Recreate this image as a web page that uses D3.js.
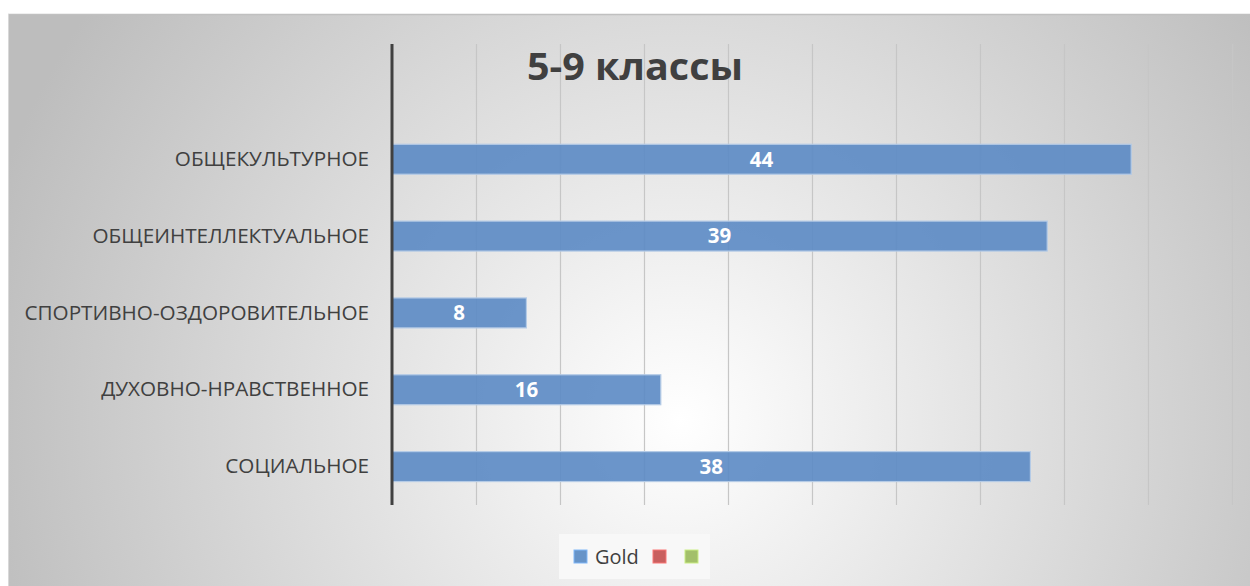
<!DOCTYPE html>
<html><head><meta charset="utf-8">
<script src="https://cdn.jsdelivr.net/npm/d3@7"></script>
<style>html,body{margin:0;padding:0;background:#fff;}svg{display:block;}</style>
</head><body>
<svg id="c" width="1250" height="586"></svg>
<script>
const categories = ["", "ОБЩЕКУЛЬТУРНОЕ", "ОБЩЕИНТЕЛЛЕКТУАЛЬНОЕ", "СПОРТИВНО-ОЗДОРОВИТЕЛЬНОЕ", "ДУХОВНО-НРАВСТВЕННОЕ", "СОЦИАЛЬНОЕ"];
const values = [null, 44, 39, 8, 16, 38];
const xTicks = [0, 5, 10, 15, 20, 25, 30, 35, 40, 45, 50];
const title = "5-9 классы";
const legendItems = ["Gold", "", ""];
const legendColors = ["#6794c8", "#c9605f", "#a3c06a"];

const svg = d3.select("#c");
const defs = svg.append("defs");
const rg = defs.append("radialGradient").attr("id","bg")
  .attr("gradientUnits","userSpaceOnUse").attr("cx",680).attr("cy",420).attr("r",720);
rg.append("stop").attr("offset","0%").attr("stop-color","#ffffff");
rg.append("stop").attr("offset","100%").attr("stop-color","#bdbdbd");

svg.append("rect").attr("x",8).attr("y",14).attr("width",1242).attr("height",572).attr("fill","url(#bg)");
svg.append("line").attr("x1",8).attr("x2",1250).attr("y1",14.5).attr("y2",14.5).attr("stroke","#c0c0c0").attr("stroke-width",1.5);
svg.append("line").attr("x1",8.5).attr("x2",8.5).attr("y1",14).attr("y2",586).attr("stroke","#d8d8d8").attr("stroke-width",1);

const x = d3.scaleLinear().domain([0,50]).range([392,1232]);
const y = d3.scaleBand().domain(categories.map((d,i)=>i)).range([44,505]).paddingInner(0.61).paddingOuter(0.305);

// grid
svg.append("g").attr("transform","translate(0,505)")
  .call(d3.axisBottom(x).tickValues(xTicks.slice(1)).tickSize(-461).tickFormat(""))
  .call(g=>g.select(".domain").remove())
  .call(g=>g.selectAll("line").attr("stroke","#c6c6c6").attr("stroke-width",1.2));

// title
svg.append("text").attr("x",635).attr("y",80).attr("text-anchor","middle")
  .attr("font-family","Open Sans").attr("font-weight","bold").attr("font-size",38).attr("fill","#404040")
  .attr("textLength",216).attr("lengthAdjust","spacingAndGlyphs").text(title);

// bars
const data = categories.map((c,i)=>({c,i,v:values[i]})).filter(d=>d.v!=null);
svg.append("g").selectAll("rect").data(data).join("rect")
  .attr("x",x(0)).attr("y",d=>y(d.i)).attr("height",y.bandwidth())
  .attr("width",d=>x(d.v)-x(0))
  .attr("fill","#5b8ac4").attr("fill-opacity",0.9).attr("stroke","#b5cbe6").attr("stroke-width",1.2);

svg.append("g").selectAll("text").data(data).join("text")
  .attr("x",d=>(x(0)+x(d.v))/2).attr("y",d=>y(d.i)+y.bandwidth()/2).attr("dy","0.36em")
  .attr("text-anchor","middle").attr("font-family","Open Sans").attr("font-weight","bold")
  .attr("font-size",20.5).attr("fill","#ffffff").text(d=>d.v);

// y axis
const ya = svg.append("g").attr("transform","translate(392,0)")
  .call(d3.axisLeft(y).tickSize(0).tickPadding(23).tickFormat(i=>categories[i]));
ya.select(".domain").remove();
ya.selectAll("text").attr("font-family","Open Sans").attr("font-size",20.7).attr("fill","#404040");
svg.append("line").attr("x1",392).attr("x2",392).attr("y1",44).attr("y2",505).attr("stroke","#404040").attr("stroke-width",3);

// legend
svg.append("rect").attr("x",559).attr("y",534).attr("width",151).attr("height",45).attr("fill","#f8f8f8");
const lx = [574, 653, 685];
const lg = svg.append("g").selectAll("g").data(legendItems).join("g")
  .attr("transform",(d,i)=>`translate(${lx[i]},550)`);
lg.append("rect").attr("width",13).attr("height",13).attr("fill",(d,i)=>legendColors[i])
  .attr("stroke",(d,i)=>d3.color(legendColors[i]).brighter(0.6)).attr("stroke-width",1);
lg.append("text").attr("x",21).attr("y",7).attr("dy","0.36em").attr("font-family","Open Sans")
  .attr("font-size",20).attr("fill","#404040").text(d=>d);
</script>
</body></html>
